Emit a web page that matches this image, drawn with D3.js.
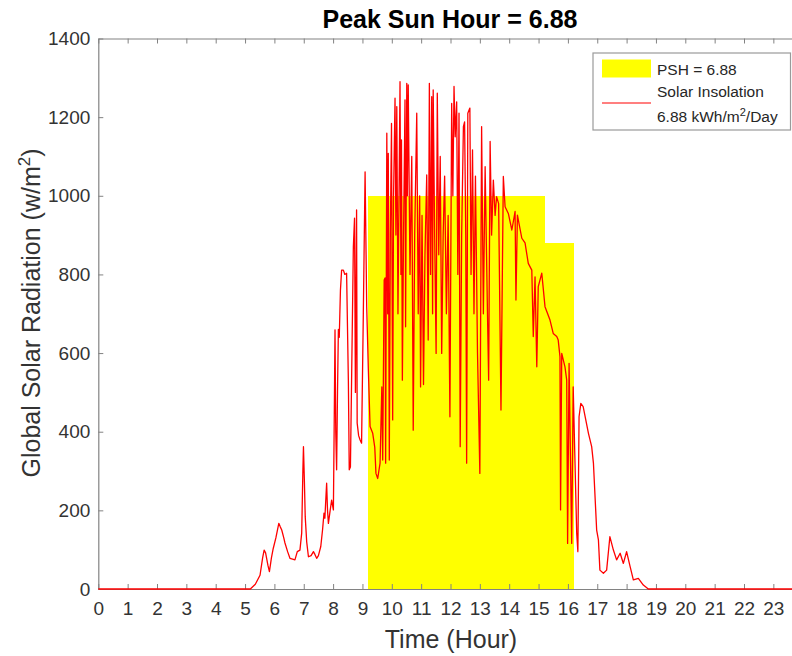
<!DOCTYPE html>
<html>
<head>
<meta charset="utf-8">
<script src="https://cdn.jsdelivr.net/npm/d3@7"></script>
<style>
  html, body { margin: 0; padding: 0; background: #fff; }
  svg { display: block; font-family: "Liberation Sans", Arial, sans-serif; }
</style>
</head>
<body>
<div id="chart"></div>
<script>
// time of day (hour) and global solar radiation (W/m2)
const hours = [
    0, 5.18, 5.35, 5.51, 5.60, 5.65, 5.70, 5.78, 5.83, 5.90, 5.96, 6.05, 6.15, 6.20, 6.25, 6.32,
    6.36, 6.45, 6.53, 6.62, 6.70, 6.78, 6.87, 6.93, 6.97, 6.99, 7.02, 7.05, 7.10, 7.16, 7.25,
    7.33, 7.38, 7.44, 7.50, 7.58, 7.64, 7.69, 7.72, 7.76, 7.78, 7.81, 7.84, 7.90, 7.95, 8.01,
    8.04, 8.065, 8.09, 8.12, 8.15, 8.18, 8.21, 8.25, 8.29, 8.35, 8.40, 8.46, 8.52, 8.55, 8.59,
    8.63, 8.69, 8.73, 8.76, 8.80, 8.82, 8.87, 8.92, 8.97, 9.03, 9.09, 9.145, 9.20, 9.26, 9.35,
    9.42, 9.46, 9.52, 9.60, 9.66, 9.69, 9.74, 9.77, 9.79, 9.83, 9.86, 9.88, 9.915, 9.95, 9.99,
    10.03, 10.06, 10.11, 10.14, 10.17, 10.21, 10.28, 10.31, 10.33, 10.36, 10.40, 10.45, 10.47,
    10.51, 10.53, 10.56, 10.62, 10.68, 10.73, 10.78, 10.85, 10.90, 10.95, 10.98, 11.03, 11.08,
    11.13, 11.19, 11.24, 11.28, 11.32, 11.36, 11.39, 11.41, 11.46, 11.51, 11.55, 11.60, 11.65,
    11.70, 11.75, 11.80, 11.86, 11.92, 11.98, 12.04, 12.08, 12.12, 12.16, 12.21, 12.25, 12.29,
    12.33, 12.38, 12.44, 12.48, 12.52, 12.55, 12.59, 12.66, 12.70, 12.75, 12.80, 12.85, 12.92,
    13.00, 13.06, 13.12, 13.18, 13.26, 13.30, 13.35, 13.40, 13.46, 13.52, 13.57, 13.64, 13.72,
    13.80, 13.86, 13.97, 14.09, 14.20, 14.23, 14.28, 14.43, 14.54, 14.65, 14.77, 14.82, 14.88,
    14.94, 14.99, 15.11, 15.22, 15.39, 15.50, 15.62, 15.67, 15.73, 15.75, 15.79, 15.90, 15.96,
    15.99, 16.04, 16.13, 16.18, 16.30, 16.34, 16.38, 16.44, 16.52, 16.70, 16.81, 16.87, 16.98,
    17.04, 17.09, 17.21, 17.32, 17.43, 17.55, 17.66, 17.78, 17.89, 18.00, 18.12, 18.23, 18.40,
    18.57, 18.74, 24
];
const radiation = [
    0, 0, 12, 35, 80, 99, 92, 60, 44, 80, 103, 130, 167, 158, 150, 130,
    117, 95, 78, 76, 74, 95, 99, 142, 300, 362, 280, 184, 120, 82, 85,
    95, 88, 78, 85, 108, 150, 193, 180, 240, 269, 200, 167, 200, 226, 201,
    440, 659, 400, 303, 500, 660, 640, 760, 811, 811, 800, 803, 531, 303, 310,
    531, 870, 943, 500, 964, 422, 390, 379, 371, 701, 1061, 718, 560, 413, 396,
    360, 294, 281, 320, 514, 328, 786, 791, 320, 1159, 700, 1108, 328, 900, 1184,
    430, 1000, 1248, 900, 1227, 700, 1290, 800, 1142, 531, 900, 1244, 667,
    1286, 1000, 1282, 800, 1100, 404, 900, 1210, 700, 1000, 514, 950, 520,
    850, 1053, 633, 1286, 800, 1252, 700, 1269, 900, 599, 1261, 850, 1100,
    599, 900, 1050, 700, 950, 438, 1235, 1000, 1278, 1150, 1239, 800, 1210,
    362, 900, 1176, 1188, 900, 320, 1210, 1223, 800, 1117, 700, 1050, 600,
    294, 1176, 700, 1074, 700, 531, 1138, 900, 1040, 950, 998, 980, 455,
    1049, 972, 955, 913, 960, 735, 951, 892, 880, 828, 811, 642, 794,
    565, 769, 803, 718, 684, 650, 642, 633, 591, 201, 599, 565, 531,
    116, 574, 116, 514, 142, 95, 438, 472, 464, 396, 362, 320, 150,
    125, 48, 40, 48, 133, 99, 74, 91, 65, 95, 57, 23, 27,
    10, 0, 0
];

// peak sun hour blocks (1000 W/m2 equivalent)
const pshStart = [9.2, 15.2];
const pshEnd = [15.2, 16.2];
const pshLevel = [1000, 880];

const xTicks = d3.range(0, 24);
const yTicks = [0, 200, 400, 600, 800, 1000, 1200, 1400];

const W = 792, H = 656;
const margin = { left: 98.3, top: 38.5, right: W - 802.7, bottom: H - 589 };
const axisColor = '#828282';
const textColor = '#333';
const tickLen = 5;

const svg = d3.select('#chart').append('svg')
    .attr('width', W)
    .attr('height', H);

const x = d3.scaleLinear().domain([0, 24]).range([margin.left, W - margin.right]);
const y = d3.scaleLinear().domain([0, 1400]).range([H - margin.bottom, margin.top]);

// yellow PSH blocks
svg.append('g')
    .attr('shape-rendering', 'crispEdges')
    .selectAll('rect')
    .data(pshStart.map((s, i) => ({ s, e: pshEnd[i], v: pshLevel[i] })))
    .join('rect')
    .attr('x', d => x(d.s))
    .attr('width', d => x(d.e) - x(d.s) + 0.5)
    .attr('y', d => y(d.v))
    .attr('height', d => y(0) - y(d.v))
    .attr('fill', '#ffff00');

// axes box, ticks pointing inward like matlab
const axBottom = d3.axisBottom(x).tickValues(xTicks).tickSize(-tickLen).tickSizeOuter(0).tickPadding(13);
const axTop = d3.axisTop(x).tickValues(xTicks).tickSize(-tickLen).tickSizeOuter(0).tickFormat('');
const axLeft = d3.axisLeft(y).tickValues(yTicks).tickSize(-tickLen).tickSizeOuter(0).tickPadding(8)
    .tickFormat(d3.format('d'));
const axRight = d3.axisRight(y).tickValues(yTicks).tickSize(-tickLen).tickSizeOuter(0).tickFormat('');

function styleAxis(g) {
    g.select('.domain').attr('stroke', axisColor).attr('stroke-width', 1.2);
    g.selectAll('.tick line').attr('stroke', axisColor).attr('stroke-width', 1);
    g.selectAll('.tick text')
        .attr('fill', textColor)
        .style('font-size', '19px')
        .style('font-family', '"Liberation Sans", Arial, sans-serif');
}

svg.append('g').attr('transform', `translate(0,${y(0)})`).call(axBottom).call(styleAxis);
svg.append('g').attr('transform', `translate(0,${y(1400)})`).call(axTop).call(styleAxis);
svg.append('g').attr('transform', `translate(${x(0)},0)`).call(axLeft).call(styleAxis);
svg.append('g').attr('transform', `translate(${x(24)},0)`).call(axRight).call(styleAxis);

// solar insolation trace
const line = d3.line().x((d, i) => x(hours[i])).y(d => y(d));
svg.append('path')
    .attr('d', line(radiation))
    .attr('fill', 'none')
    .attr('stroke', '#ff0000')
    .attr('stroke-width', 1.3)
    .attr('stroke-linejoin', 'round');

// title and axis labels
svg.append('text')
    .attr('x', 450)
    .attr('y', 28)
    .attr('text-anchor', 'middle')
    .style('font-size', '25px')
    .style('font-weight', 'bold')
    .attr('fill', '#000')
    .text('Peak Sun Hour = 6.88');

svg.append('text')
    .attr('x', 451)
    .attr('y', 648)
    .attr('text-anchor', 'middle')
    .style('font-size', '25px')
    .attr('fill', textColor)
    .text('Time (Hour)');

const yLabel = svg.append('text')
    .attr('transform', 'translate(40,313) rotate(-90)')
    .attr('text-anchor', 'middle')
    .style('font-size', '25px')
    .attr('fill', textColor);
yLabel.append('tspan').text('Global Solar Radiation (w/m');
yLabel.append('tspan').attr('dy', -10).style('font-size', '17px').text('2');
yLabel.append('tspan').attr('dy', 10).text(')');

// legend
const lg = svg.append('g').attr('transform', 'translate(593,53)');
lg.append('rect')
    .attr('width', 197.5)
    .attr('height', 77)
    .attr('fill', '#fff')
    .attr('stroke', '#9a9a9a')
    .attr('stroke-width', 1.2);
lg.append('rect')
    .attr('x', 9).attr('y', 6.5)
    .attr('width', 49).attr('height', 18)
    .attr('fill', '#ffff00');
lg.append('line')
    .attr('x1', 9).attr('x2', 58)
    .attr('y1', 50).attr('y2', 50)
    .attr('stroke', '#ff0000')
    .attr('stroke-width', 1.2);

const legendText = (ty) => lg.append('text')
    .attr('x', 64)
    .attr('y', ty)
    .style('font-size', '15.5px')
    .attr('fill', '#262626');
legendText(22).text('PSH = 6.88');
legendText(44).text('Solar Insolation');
const unit = legendText(69);
unit.append('tspan').text('6.88 kWh/m');
unit.append('tspan').attr('dy', -6).style('font-size', '11px').text('2');
unit.append('tspan').attr('dy', 6).text('/Day');
</script>
</body>
</html>
